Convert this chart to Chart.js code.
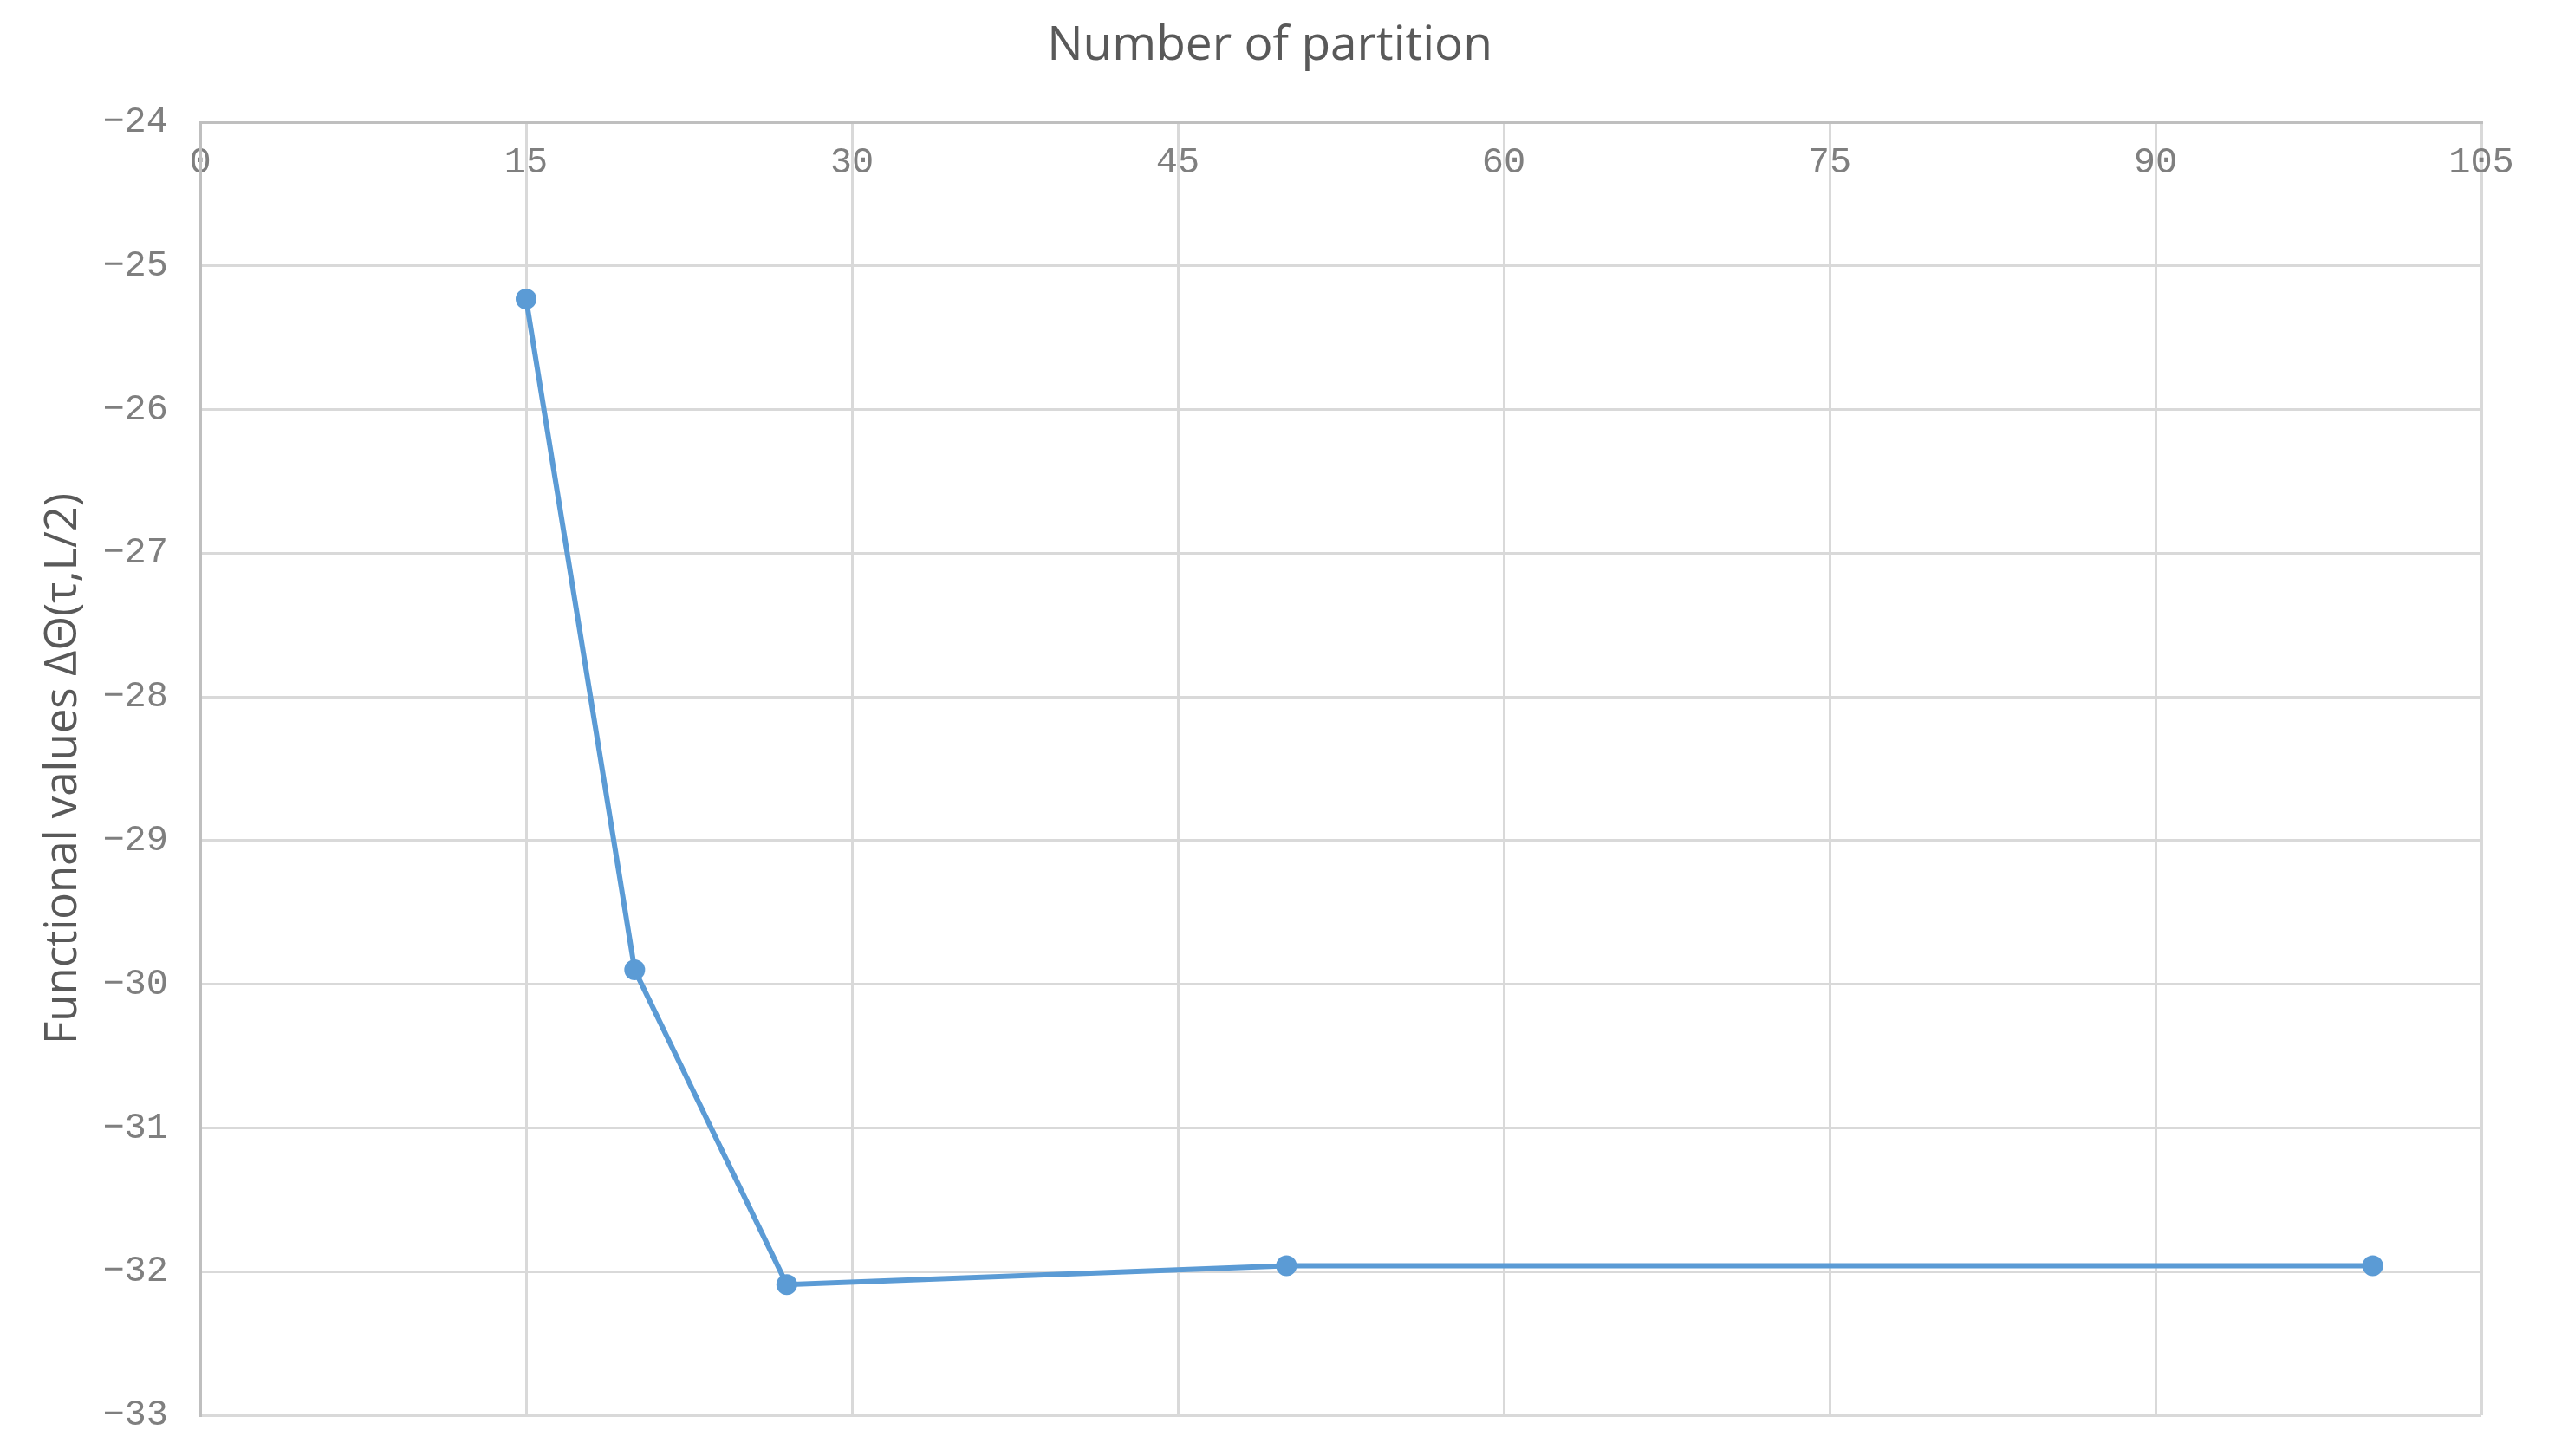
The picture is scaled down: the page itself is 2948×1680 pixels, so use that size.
<!DOCTYPE html>
<html>
<head>
<meta charset="utf-8">
<script src="https://cdn.jsdelivr.net/npm/chart.js@4.4.1/dist/chart.umd.min.js"></script>
<style>
  html, body { margin: 0; padding: 0; background: #fff; }
  #wrap { width: 2948px; height: 1680px; position: relative; }
</style>
</head>
<body>
<div id="wrap"><canvas id="partitionChart"></canvas></div>
<script>
'use strict';

// ── Data ──────────────────────────────────────────────────────
const partitions       = [15, 20, 27, 50, 100];
const functionalValues = [-25.23, -29.90, -32.09, -31.96, -31.96];

const xTicks = [0, 15, 30, 45, 60, 75, 90, 105];
const yTicks = [-24, -25, -26, -27, -28, -29, -30, -31, -32, -33];

const titleText  = 'Number of partition';
const yTitleText = 'Functional values ΔΘ(τ,L/2)';

// ── Style ─────────────────────────────────────────────────────
const LINE_BLUE  = '#5b9bd5';
const GRID_GREY  = '#d9d9d9';
const AXIS_GREY  = '#bfbfbf';
const TICK_GREY  = '#7f7f7f';
const TITLE_GREY = '#595959';

const points = partitions.map((p, i) => ({ x: p, y: functionalValues[i] }));

new Chart(document.getElementById('partitionChart'), {
  type: 'line',
  data: {
    datasets: [{
      data: points,
      borderColor: LINE_BLUE,
      backgroundColor: LINE_BLUE,
      pointBackgroundColor: LINE_BLUE,
      pointBorderWidth: 0,
      pointRadius: 12,
      borderWidth: 6,
      tension: 0,
      fill: false,
      clip: false,
    }],
  },
  options: {
    responsive: true,
    maintainAspectRatio: false,
    animation: false,
    layout: { padding: { left: 67, right: 85, top: 0, bottom: 47 } },
    plugins: {
      legend:  { display: false },
      tooltip: { enabled: false },
      title: {
        display: true,
        text: titleText,
        color: TITLE_GREY,
        font: { family: "'Open Sans', sans-serif", size: 55, weight: 'normal', lineHeight: 1.2 },
        padding: { top: 20, bottom: 0 },
      },
    },
    scales: {
      x: {
        type: 'linear',
        position: 'top',
        min: xTicks[0],
        max: xTicks[xTicks.length - 1],
        afterBuildTicks(scale) { scale.ticks = xTicks.map(v => ({ value: v })); },
        afterFit(scale) {
          scale.height = 55;
          scale.paddingLeft = 0;
          scale.paddingRight = 0;
        },
        grid:   { color: GRID_GREY, lineWidth: 3, drawTicks: false },
        border: { color: AXIS_GREY, width: 3 },
        ticks: {
          mirror: true,
          padding: 22,
          autoSkip: false,
          maxRotation: 0,
          color: TICK_GREY,
          font: { family: "'Liberation Mono', monospace", size: 42 },
        },
      },
      y: {
        type: 'linear',
        min: yTicks[yTicks.length - 1],
        max: yTicks[0],
        afterBuildTicks(scale) { scale.ticks = yTicks.slice().reverse().map(v => ({ value: v })); },
        afterFit(scale) {
          scale.width = 164;
          scale.paddingTop = 0;
          scale.paddingBottom = 0;
        },
        grid:   { color: GRID_GREY, lineWidth: 3, drawTicks: false },
        border: { color: AXIS_GREY, width: 3 },
        ticks: {
          padding: 37,
          autoSkip: false,
          color: TICK_GREY,
          font: { family: "'Liberation Mono', monospace", size: 42 },
          callback: v => String(v).replace('-', '\u2212'),   // typographic minus like Excel
        },
        title: {
          display: true,
          text: yTitleText,
          color: TITLE_GREY,
          font: { family: "'Open Sans', sans-serif", size: 51, lineHeight: 1.2 },
          padding: { top: -24, bottom: 0 },
        },
      },
    },
  },
});
</script>
</body>
</html>
